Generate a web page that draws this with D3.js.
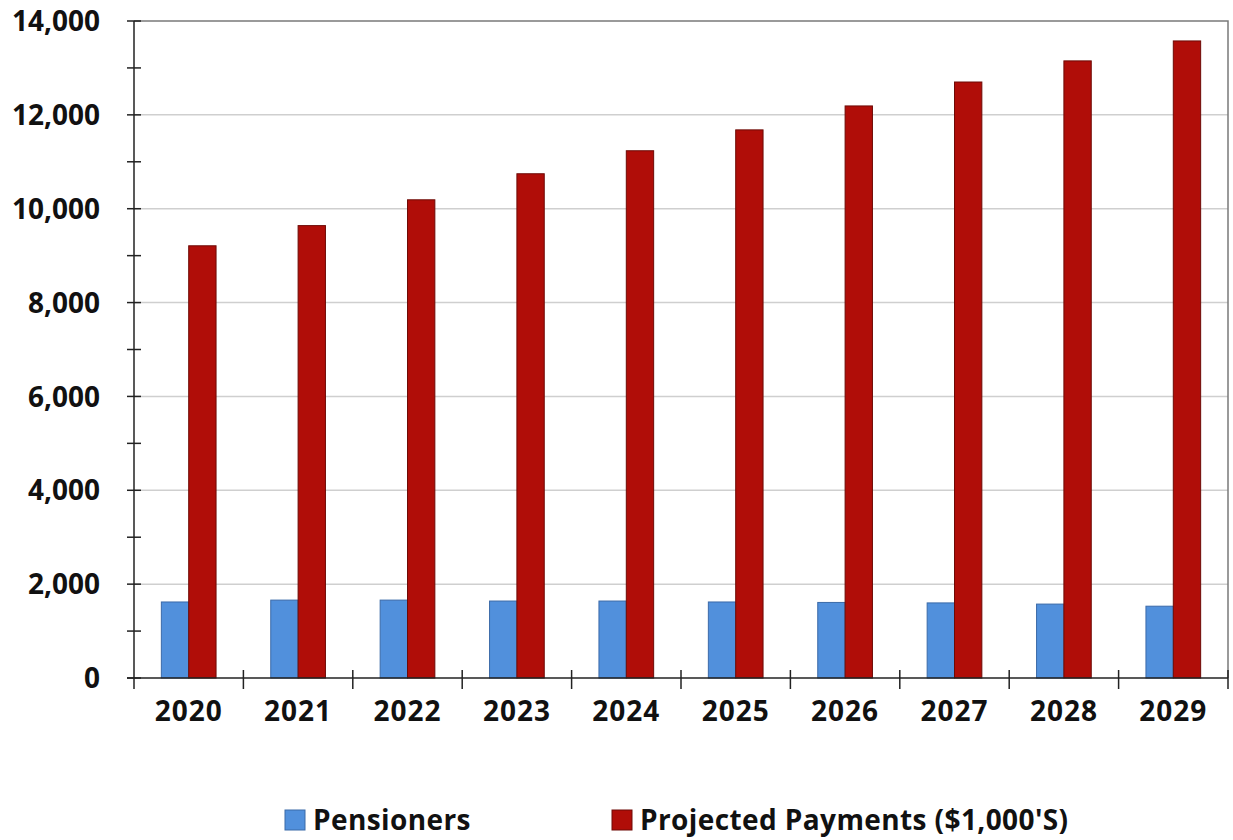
<!DOCTYPE html>
<html>
<head>
<meta charset="utf-8">
<script src="https://cdn.jsdelivr.net/npm/d3@7"></script>
<style>
  html, body { margin: 0; padding: 0; background: #fff; }
  svg { display: block; }
  text { font-family: "Open Sans", "DejaVu Sans", sans-serif; font-weight: 700; fill: #111; }
</style>
</head>
<body>
<svg id="chart" width="1233" height="840"></svg>
<script>
// Pension projections by year
const years = ["2020", "2021", "2022", "2023", "2024", "2025", "2026", "2027", "2028", "2029"];
const pensioners = [1620, 1660, 1660, 1640, 1640, 1620, 1610, 1600, 1575, 1530];
const payments = [9210, 9640, 10190, 10745, 11235, 11680, 12190, 12700, 13150, 13575];
const seriesNames = ["Pensioners", "Projected Payments ($1,000'S)"];
const yTicks = [0, 2000, 4000, 6000, 8000, 10000, 12000, 14000];

const svg = d3.select("#chart");
const m = { left: 134, right: 1228, top: 21, bottom: 678 };

const x = d3.scaleBand().domain(years).range([m.left, m.right]);
const y = d3.scaleLinear().domain([0, 14000]).range([m.bottom, m.top]);
const inner = d3.scaleBand().domain([0, 1]).range([0, x.bandwidth() / 2]);

// Horizontal gridlines
svg.append("g")
  .selectAll("line")
  .data(yTicks.slice(1, -1))
  .join("line")
  .attr("x1", m.left).attr("x2", m.right)
  .attr("y1", d => y(d)).attr("y2", d => y(d))
  .attr("stroke", "#cfcfcf").attr("stroke-width", 1.5);

// Plot frame: top and right edges
svg.append("path")
  .attr("d", `M${m.left},${y(14000)}H${m.right}V${m.bottom}`)
  .attr("fill", "none").attr("stroke", "#7a7a7a").attr("stroke-width", 1.5);

// Bars
const colors = ["#5190dc", "#b00d08"];
const strokes = ["#3b6aa8", "#6e0a06"];
const groups = svg.append("g")
  .selectAll("g")
  .data(years)
  .join("g")
  .attr("transform", d => `translate(${x(d) + x.bandwidth() / 4},0)`);

[pensioners, payments].forEach((vals, s) => {
  groups.append("rect")
    .attr("x", inner(s))
    .attr("width", inner.bandwidth())
    .attr("y", (d, i) => y(vals[i]))
    .attr("height", (d, i) => y(0) - y(vals[i]))
    .attr("fill", colors[s])
    .attr("stroke", strokes[s])
    .attr("stroke-width", 1);
});

// Y axis with minor ticks every 1,000
const yMinor = d3.range(0, 14001, 1000);
const yAxis = svg.append("g");
yAxis.append("line")
  .attr("x1", m.left).attr("x2", m.left)
  .attr("y1", m.top).attr("y2", m.bottom + 11)
  .attr("stroke", "#222").attr("stroke-width", 1.5);
yAxis.selectAll("line.tick")
  .data(yMinor)
  .join("line")
  .attr("class", "tick")
  .attr("x1", m.left - 7).attr("x2", m.left + 7)
  .attr("y1", d => y(d)).attr("y2", d => y(d))
  .attr("stroke", "#222").attr("stroke-width", 1.5);
yAxis.selectAll("text")
  .data(yTicks)
  .join("text")
  .attr("x", 100)
  .attr("y", d => y(d))
  .attr("dy", "0.36em")
  .attr("text-anchor", "end")
  .attr("font-size", 28)
  .text(d => d3.format(",")(d));

// X axis with ticks at category boundaries
const xAxis = svg.append("g");
xAxis.append("line")
  .attr("x1", m.left - 7).attr("x2", m.right)
  .attr("y1", m.bottom).attr("y2", m.bottom)
  .attr("stroke", "#222").attr("stroke-width", 1.5);
xAxis.selectAll("line.tick")
  .data(years.slice(1).concat(["end"]))
  .join("line")
  .attr("class", "tick")
  .attr("x1", (d, i) => x(years[0]) + (i + 1) * x.bandwidth())
  .attr("x2", (d, i) => x(years[0]) + (i + 1) * x.bandwidth())
  .attr("y1", m.bottom - 8).attr("y2", m.bottom + 11)
  .attr("stroke", "#222").attr("stroke-width", 1.5);
xAxis.selectAll("text")
  .data(years)
  .join("text")
  .attr("x", d => x(d) + x.bandwidth() / 2)
  .attr("y", 721)
  .attr("text-anchor", "middle")
  .attr("font-size", 28)
  .attr("letter-spacing", 1)
  .text(d => d);

// Legend
const legendX = [285, 612];
const legend = svg.append("g")
  .selectAll("g")
  .data(seriesNames)
  .join("g")
  .attr("transform", (d, i) => `translate(${legendX[i]},810)`);
legend.append("rect")
  .attr("width", 20).attr("height", 20)
  .attr("fill", (d, i) => colors[i])
  .attr("stroke", (d, i) => strokes[i]).attr("stroke-width", 1);
legend.append("text")
  .attr("x", 28).attr("y", 10)
  .attr("dy", "0.36em")
  .attr("font-size", 28)
  .attr("letter-spacing", 0.4)
  .text(d => d);
</script>
</body>
</html>
